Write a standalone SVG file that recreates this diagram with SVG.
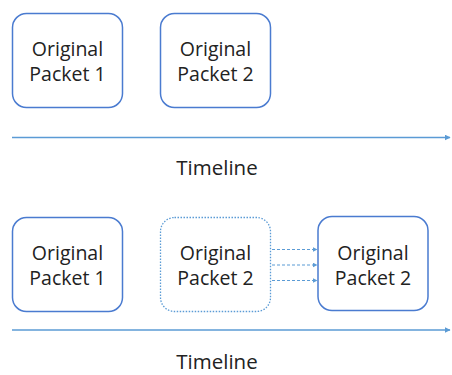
<svg xmlns="http://www.w3.org/2000/svg" width="452" height="375" viewBox="0 0 452 375">
<defs>
<style>
.box{fill:#fff;stroke:#4A7BD0;stroke-width:1.5}
.dot{fill:#fff;stroke:#5B9BD5;stroke-width:1.3;stroke-dasharray:1.5 1.5}
.t{font-family:"Open Sans",sans-serif;font-size:19.5px;fill:#222;text-anchor:middle}
.tm{font-size:20.5px}
.tl{stroke:#5B9BD5;stroke-width:1.5;fill:none}
.ar{stroke:#5B9BD5;stroke-width:1.2;stroke-dasharray:3 2;fill:none}
</style>
<marker id="ah" viewBox="0 0 10 10" refX="9" refY="5" markerWidth="6" markerHeight="6" orient="auto" markerUnits="userSpaceOnUse">
<path d="M0,0 L10,5 L0,10 z" fill="#5B9BD5"/>
</marker>
<marker id="ah2" viewBox="0 0 10 10" refX="9" refY="5" markerWidth="5" markerHeight="5" orient="auto" markerUnits="userSpaceOnUse">
<path d="M0,0 L10,5 L0,10 z" fill="#5B9BD5"/>
</marker>
</defs>
<g id="p1a"><rect class="box" x="12.5" y="13.5" width="110" height="94" rx="14"/><text class="t" x="67.5" y="56">Original</text><text class="t" x="67.5" y="80.5">Packet 1</text></g>
<g id="p2a"><rect class="box" x="160.5" y="13.5" width="110" height="94" rx="14"/><text class="t" x="215.5" y="56">Original</text><text class="t" x="215.5" y="80.5">Packet 2</text></g>
<g id="timeline1"><text class="t tm" x="217" y="175">Timeline</text></g>
<g id="p1b"><rect class="box" x="12.5" y="217.5" width="110" height="94" rx="14"/><text class="t" x="67.5" y="260">Original</text><text class="t" x="67.5" y="284.5">Packet 1</text></g>
<g id="p2ghost"><rect class="dot" x="160.5" y="217.5" width="110" height="94" rx="14"/><text class="t" x="215.5" y="260">Original</text><text class="t" x="215.5" y="284.5">Packet 2</text></g>
<g id="p2b"><rect class="box" x="318" y="216.5" width="110" height="94" rx="14"/><text class="t" x="373" y="260">Original</text><text class="t" x="373" y="284.5">Packet 2</text></g>
<g id="timeline2"><text class="t tm" x="217" y="369">Timeline</text></g>
<g id="connectors">
<line class="tl" x1="12" y1="137.5" x2="450" y2="137.5" marker-end="url(#ah)"/>
<line class="tl" x1="12" y1="330" x2="450" y2="330" marker-end="url(#ah)"/>
<line class="ar" x1="272" y1="249.5" x2="317" y2="249.5" marker-end="url(#ah2)"/>
<line class="ar" x1="272" y1="265" x2="317" y2="265" marker-end="url(#ah2)"/>
<line class="ar" x1="272" y1="280.5" x2="317" y2="280.5" marker-end="url(#ah2)"/>
</g>
</svg>
